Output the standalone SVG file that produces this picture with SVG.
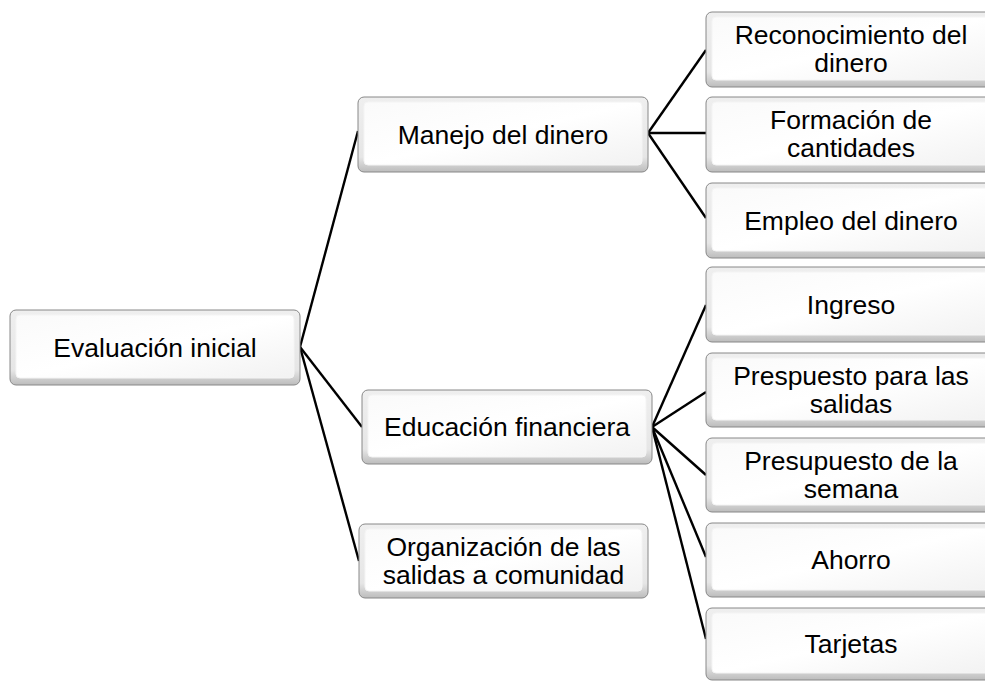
<svg xmlns="http://www.w3.org/2000/svg" width="985" height="681" viewBox="0 0 985 681">
<defs>
<linearGradient id="gOuter" x1="0" y1="0" x2="0" y2="1">
<stop offset="0" stop-color="#efefef"/>
<stop offset="0.8" stop-color="#e6e6e6"/>
<stop offset="1" stop-color="#bcbcbc"/>
</linearGradient>
<linearGradient id="gInner" x1="0" y1="0" x2="1" y2="1">
<stop offset="0" stop-color="#fafafa"/>
<stop offset="0.5" stop-color="#ffffff"/>
<stop offset="1" stop-color="#f2f2f2"/>
</linearGradient>
</defs>
<style>
.box{fill:url(#gOuter);stroke:#888888;stroke-width:1}
.inner{fill:url(#gInner);stroke:#f4f4f4;stroke-width:1}
.t{font-family:"Liberation Sans",Arial,sans-serif;font-size:26.5px;fill:#000;text-anchor:middle}
.c{stroke:#000;stroke-width:2.4;fill:none}
</style>
<rect width="985" height="681" fill="#fff"/>
<g id="connectors">
<line class="c" x1="300" y1="347" x2="358" y2="131"/>
<line class="c" x1="300" y1="347" x2="362" y2="427"/>
<line class="c" x1="300" y1="347" x2="359" y2="561"/>
<line class="c" x1="648" y1="133" x2="706" y2="50"/>
<line class="c" x1="648" y1="133" x2="706" y2="133"/>
<line class="c" x1="648" y1="133" x2="706" y2="218"/>
<line class="c" x1="652" y1="427" x2="706" y2="305"/>
<line class="c" x1="652" y1="427" x2="706" y2="392"/>
<line class="c" x1="652" y1="427" x2="706" y2="475"/>
<line class="c" x1="652" y1="427" x2="706" y2="557"/>
<line class="c" x1="652" y1="427" x2="706" y2="639"/>
</g>
<g id="n-evaluacion">
<rect class="box" x="10" y="310" width="290" height="75" rx="6"/>
<rect class="inner" x="16" y="315" width="278" height="63" rx="4"/>
<text class="t" x="155" y="356.5">Evaluación inicial</text>
</g>
<g id="n-manejo">
<rect class="box" x="358" y="97" width="290" height="75" rx="6"/>
<rect class="inner" x="364" y="102" width="278" height="63" rx="4"/>
<text class="t" x="503" y="143.5">Manejo del dinero</text>
</g>
<g id="n-educacion">
<rect class="box" x="362" y="390" width="290" height="74" rx="6"/>
<rect class="inner" x="368" y="395" width="278" height="62" rx="4"/>
<text class="t" x="507" y="436">Educación financiera</text>
</g>
<g id="n-organizacion">
<rect class="box" x="359" y="524" width="289" height="74" rx="6"/>
<rect class="inner" x="365" y="529" width="277" height="62" rx="4"/>
<text class="t" x="503.5" y="556">Organización de las</text>
<text class="t" x="503.5" y="584">salidas a comunidad</text>
</g>
<g id="n-reconocimiento">
<rect class="box" x="706" y="12" width="290" height="75" rx="6"/>
<rect class="inner" x="712" y="17" width="278" height="63" rx="4"/>
<text class="t" x="851" y="44">Reconocimiento del</text>
<text class="t" x="851" y="72">dinero</text>
</g>
<g id="n-formacion">
<rect class="box" x="706" y="97" width="290" height="75" rx="6"/>
<rect class="inner" x="712" y="102" width="278" height="63" rx="4"/>
<text class="t" x="851" y="129">Formación de</text>
<text class="t" x="851" y="157">cantidades</text>
</g>
<g id="n-empleo">
<rect class="box" x="706" y="183" width="290" height="75" rx="6"/>
<rect class="inner" x="712" y="188" width="278" height="63" rx="4"/>
<text class="t" x="851" y="229.5">Empleo del dinero</text>
</g>
<g id="n-ingreso">
<rect class="box" x="706" y="267" width="290" height="75" rx="6"/>
<rect class="inner" x="712" y="272" width="278" height="63" rx="4"/>
<text class="t" x="851" y="313.5">Ingreso</text>
</g>
<g id="n-prespuesto">
<rect class="box" x="706" y="353" width="290" height="74" rx="6"/>
<rect class="inner" x="712" y="358" width="278" height="62" rx="4"/>
<text class="t" x="851" y="385">Prespuesto para las</text>
<text class="t" x="851" y="413">salidas</text>
</g>
<g id="n-presupuesto">
<rect class="box" x="706" y="438" width="290" height="74" rx="6"/>
<rect class="inner" x="712" y="443" width="278" height="62" rx="4"/>
<text class="t" x="851" y="470">Presupuesto de la</text>
<text class="t" x="851" y="498">semana</text>
</g>
<g id="n-ahorro">
<rect class="box" x="706" y="523" width="290" height="74" rx="6"/>
<rect class="inner" x="712" y="528" width="278" height="62" rx="4"/>
<text class="t" x="851" y="569">Ahorro</text>
</g>
<g id="n-tarjetas">
<rect class="box" x="706" y="608" width="290" height="72" rx="6"/>
<rect class="inner" x="712" y="613" width="278" height="60" rx="4"/>
<text class="t" x="851" y="653">Tarjetas</text>
</g>
</svg>
